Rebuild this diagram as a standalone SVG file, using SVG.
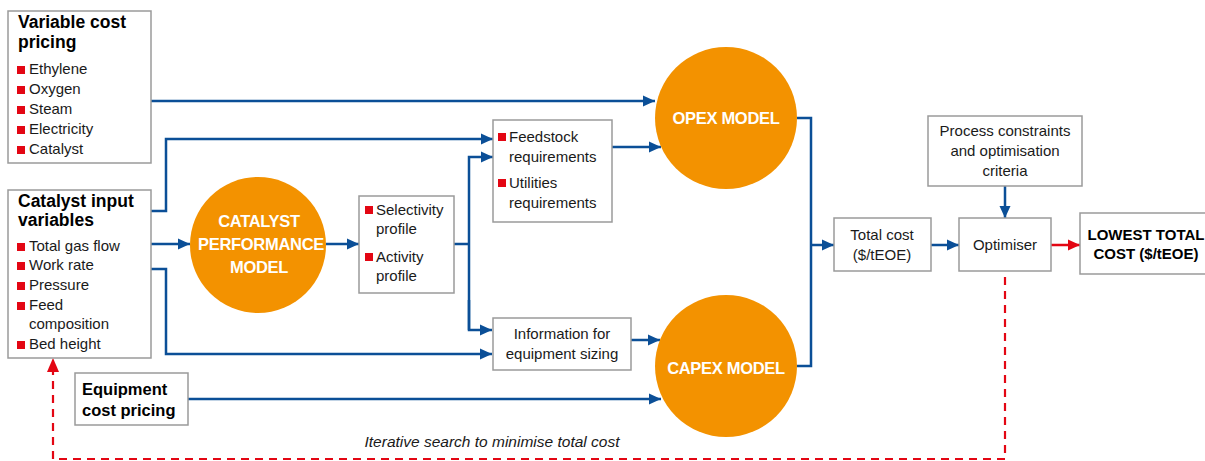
<svg xmlns="http://www.w3.org/2000/svg" width="1205" height="461" viewBox="0 0 1205 461">
<style>
.box{fill:#fff;stroke:#9a9a9a;stroke-width:1.5}
.t{font-family:"Liberation Sans",Arial,sans-serif;font-size:15px;fill:#1a1a1a}
.tb{font-family:"Liberation Sans",Arial,sans-serif;font-size:17.5px;font-weight:bold;fill:#000}
.c{text-anchor:middle}
.ct{font-family:"Liberation Sans",Arial,sans-serif;font-size:16.5px;font-weight:bold;fill:#fff;text-anchor:middle;letter-spacing:-0.3px}
.circ{fill:#f39200}
.b{fill:#e30613}
.ln{fill:none;stroke:#0b4f97;stroke-width:2.5}
.rd{fill:none;stroke:#e30613;stroke-width:2.2;stroke-dasharray:8,6}
</style>
<defs>
<marker id="ab" markerUnits="userSpaceOnUse" markerWidth="14" markerHeight="14" refX="12" refY="7" orient="auto"><path d="M0,1.5 L12,7 L0,12.5 Z" fill="#0b4f97"/></marker>
<marker id="ar" markerUnits="userSpaceOnUse" markerWidth="14" markerHeight="14" refX="12" refY="7" orient="auto"><path d="M0,1.5 L12,7 L0,12.5 Z" fill="#e30613"/></marker>
</defs>

<g id="connectors">
<path class="ln" d="M151,101 H655" marker-end="url(#ab)"/>
<path class="ln" d="M151,211 H166 V139 H493" marker-end="url(#ab)"/>
<path class="ln" d="M151,244 H190" marker-end="url(#ab)"/>
<path class="ln" d="M151,269 H166 V354 H492" marker-end="url(#ab)"/>
<path class="ln" d="M326,244 H359" marker-end="url(#ab)"/>
<path class="ln" d="M454,244 H469"/>
<path class="ln" d="M469,330 V157 H493" marker-end="url(#ab)"/>
<path class="ln" d="M469,300 V330 H492" marker-end="url(#ab)"/>
<path class="ln" d="M612,147 H661" marker-end="url(#ab)"/>
<path class="ln" d="M631,340 H660" marker-end="url(#ab)"/>
<path class="ln" d="M188,399 H661" marker-end="url(#ab)"/>
<path class="ln" d="M797,118 H811 V366 H797"/>
<path class="ln" d="M811,245 H834" marker-end="url(#ab)"/>
<path class="ln" d="M931,245 H959" marker-end="url(#ab)"/>
<path class="ln" d="M1005,186 V218" marker-end="url(#ab)"/>
<path d="M1051,245 H1080" fill="none" stroke="#e30613" stroke-width="2.5" marker-end="url(#ar)"/>
<path class="rd" d="M1005,277 V459 H53 V372"/>
<path d="M47,372 L53,358 L59,372 Z" fill="#e30613"/>
<text x="492" y="447" class="t c" style="font-style:italic;font-size:15.5px">Iterative search to minimise total cost</text>
</g>

<g id="variable-cost">
<rect class="box" x="8" y="11" width="143" height="152"/>
<text class="tb" x="18" y="28">Variable cost</text>
<text class="tb" x="18" y="48">pricing</text>
<rect class="b" x="17" y="66" width="8" height="8"/><text class="t" x="29" y="74">Ethylene</text>
<rect class="b" x="17" y="86" width="8" height="8"/><text class="t" x="29" y="94">Oxygen</text>
<rect class="b" x="17" y="106" width="8" height="8"/><text class="t" x="29" y="114">Steam</text>
<rect class="b" x="17" y="126" width="8" height="8"/><text class="t" x="29" y="134">Electricity</text>
<rect class="b" x="17" y="146" width="8" height="8"/><text class="t" x="29" y="154">Catalyst</text>
</g>

<g id="catalyst-input">
<rect class="box" x="8" y="190" width="143" height="168"/>
<text class="tb" x="18" y="207">Catalyst input</text>
<text class="tb" x="18" y="226">variables</text>
<rect class="b" x="17" y="243" width="8" height="8"/><text class="t" x="29" y="251">Total gas flow</text>
<rect class="b" x="17" y="262" width="8" height="8"/><text class="t" x="29" y="270">Work rate</text>
<rect class="b" x="17" y="282" width="8" height="8"/><text class="t" x="29" y="290">Pressure</text>
<rect class="b" x="17" y="302" width="8" height="8"/><text class="t" x="29" y="310">Feed</text>
<text class="t" x="29" y="329">composition</text>
<rect class="b" x="17" y="341" width="8" height="8"/><text class="t" x="29" y="349">Bed height</text>
</g>

<g id="equipment-cost">
<rect class="box" x="75" y="373" width="113" height="52"/>
<text class="tb" x="82" y="395" style="font-size:16.5px">Equipment</text>
<text class="tb" x="82" y="416" style="font-size:16.5px">cost pricing</text>
</g>

<g id="catalyst-model">
<circle class="circ" cx="258" cy="245" r="68"/>
<text class="ct" x="259" y="227">CATALYST</text>
<text class="ct" x="261" y="250">PERFORMANCE</text>
<text class="ct" x="259" y="273">MODEL</text>
</g>

<g id="profiles">
<rect class="box" x="359" y="196" width="95" height="97"/>
<rect class="b" x="365" y="206" width="8" height="8"/><text class="t" x="376" y="215">Selectivity</text>
<text class="t" x="376" y="234">profile</text>
<rect class="b" x="365" y="253" width="8" height="8"/><text class="t" x="376" y="262">Activity</text>
<text class="t" x="376" y="281">profile</text>
</g>

<g id="requirements">
<rect class="box" x="493" y="120" width="119" height="102"/>
<rect class="b" x="498" y="133" width="8" height="8"/><text class="t" x="509" y="142">Feedstock</text>
<text class="t" x="509" y="162">requirements</text>
<rect class="b" x="498" y="179" width="8" height="8"/><text class="t" x="509" y="188">Utilities</text>
<text class="t" x="509" y="208">requirements</text>
</g>

<g id="equipment-info">
<rect class="box" x="493" y="318" width="138" height="52"/>
<text class="t c" x="562" y="339">Information for</text>
<text class="t c" x="562" y="359">equipment sizing</text>
</g>

<g id="opex">
<circle class="circ" cx="726" cy="118" r="71"/>
<text class="ct" x="726" y="124">OPEX MODEL</text>
</g>

<g id="capex">
<circle class="circ" cx="726" cy="366" r="71"/>
<text class="ct" x="726" y="374">CAPEX MODEL</text>
</g>

<g id="total-cost">
<rect class="box" x="834" y="218" width="97" height="53"/>
<text class="t c" x="882" y="240">Total cost</text>
<text class="t c" x="882" y="260">($/tEOE)</text>
</g>

<g id="constraints">
<rect class="box" x="928" y="116" width="154" height="70"/>
<text class="t c" x="1005" y="136">Process constraints</text>
<text class="t c" x="1005" y="156">and optimisation</text>
<text class="t c" x="1005" y="176">criteria</text>
</g>

<g id="optimiser">
<rect class="box" x="959" y="218" width="92" height="53"/>
<text class="t c" x="1005" y="250">Optimiser</text>
</g>

<g id="lowest">
<rect class="box" x="1080" y="213" width="130" height="61"/>
<text class="tb c" x="1146" y="240" style="font-size:15px">LOWEST TOTAL</text>
<text class="tb c" x="1146" y="259" style="font-size:15px">COST ($/tEOE)</text>
</g>
</svg>
